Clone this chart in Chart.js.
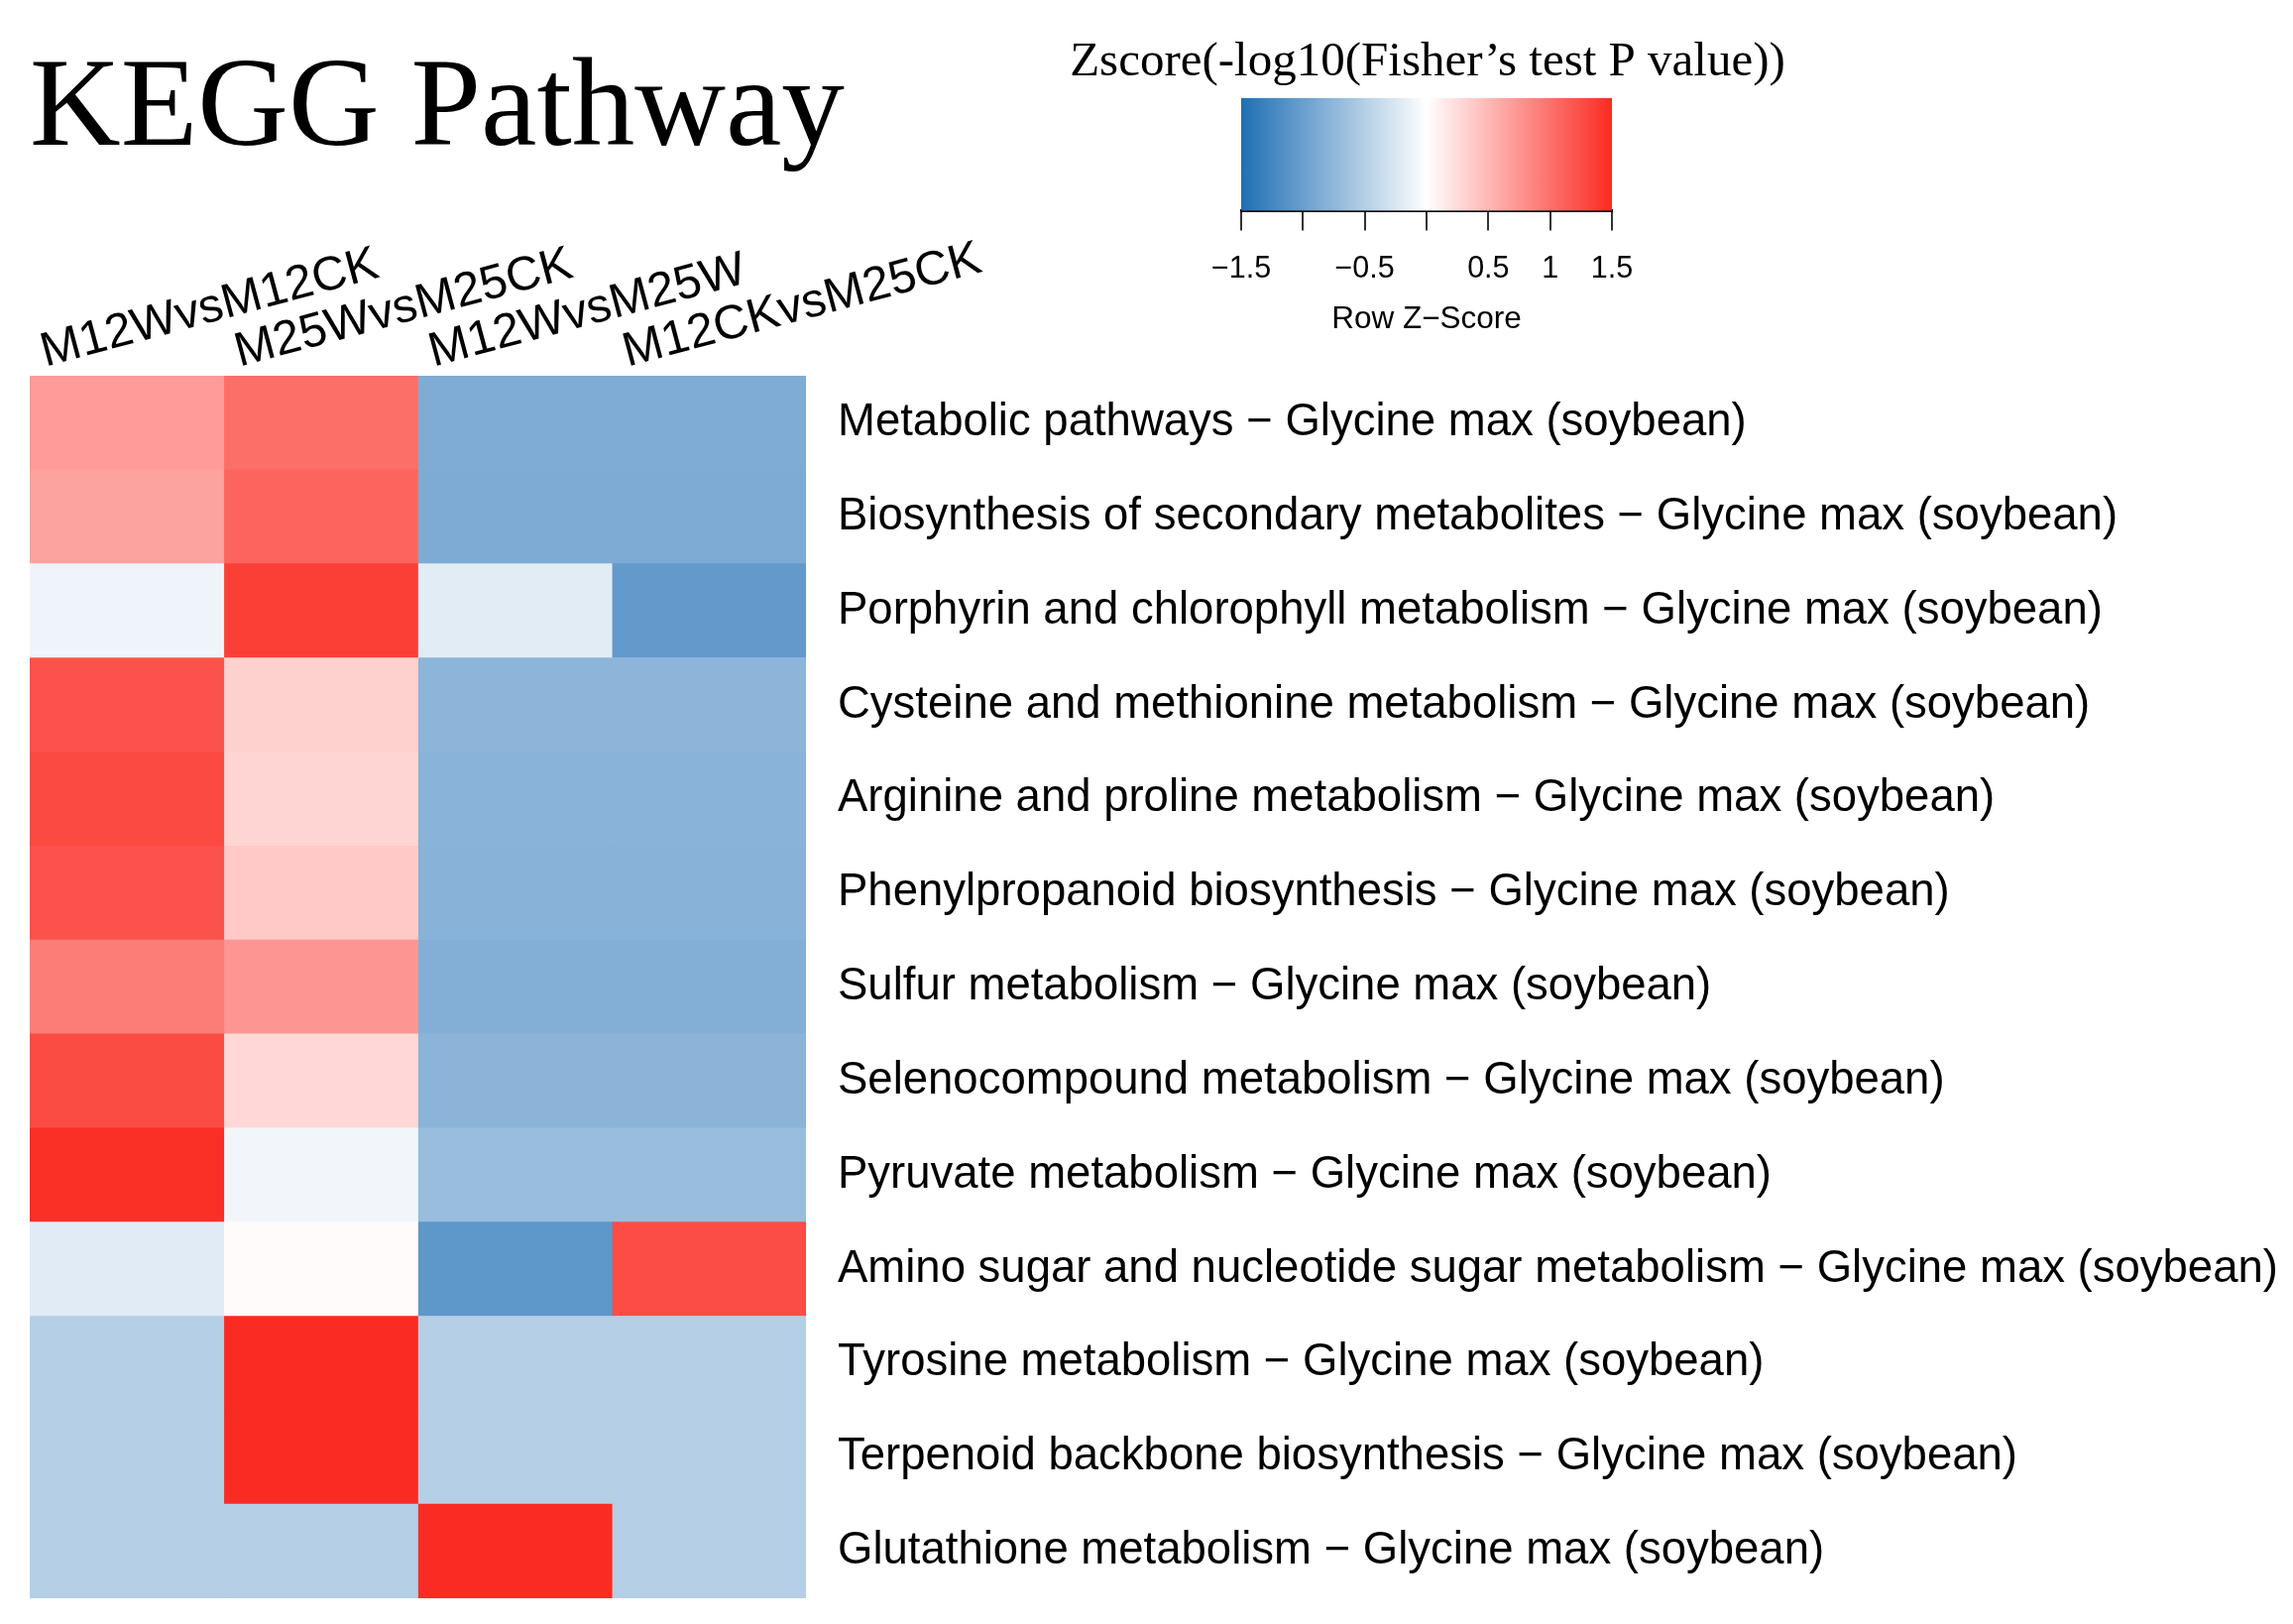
<!DOCTYPE html>
<html>
<head>
<meta charset="utf-8">
<title>KEGG Pathway heatmap</title>
<script src="https://cdn.jsdelivr.net/npm/chart.js@4.4.1/dist/chart.umd.min.js"></script>
<style>
  body { margin: 0; background: #fff; }
  #wrap { position: relative; width: 2313px; height: 1638px; }
  #heat { position: absolute; left: 0; top: 0; }
  #key { position: absolute; left: 1040px; top: 0; }
</style>
</head>
<body>
<div id="wrap">
  <canvas id="heat" width="2313" height="1638"></canvas>
  <canvas id="key" width="800" height="380"></canvas>
</div>
<script>
// rows of the heatmap (top to bottom)
const pathways = [
    'Metabolic pathways − Glycine max (soybean)',
    'Biosynthesis of secondary metabolites − Glycine max (soybean)',
    'Porphyrin and chlorophyll metabolism − Glycine max (soybean)',
    'Cysteine and methionine metabolism − Glycine max (soybean)',
    'Arginine and proline metabolism − Glycine max (soybean)',
    'Phenylpropanoid biosynthesis − Glycine max (soybean)',
    'Sulfur metabolism − Glycine max (soybean)',
    'Selenocompound metabolism − Glycine max (soybean)',
    'Pyruvate metabolism − Glycine max (soybean)',
    'Amino sugar and nucleotide sugar metabolism − Glycine max (soybean)',
    'Tyrosine metabolism − Glycine max (soybean)',
    'Terpenoid backbone biosynthesis − Glycine max (soybean)',
    'Glutathione metabolism − Glycine max (soybean)'
];

// columns
const comparisons = ['M12WvsM12CK', 'M25WvsM25CK', 'M12WvsM25W', 'M12CKvsM25CK'];

// row z-scores, one array per column
const zM12WvsM12CK  = [0.70, 0.65, -0.11, 1.22, 1.28, 1.22, 0.92, 1.27, 1.47, -0.21, -0.50, -0.50, -0.50];
const zM25WvsM25CK  = [1.02, 1.09, 1.36, 0.33, 0.30, 0.38, 0.74, 0.28, -0.09, 0.03, 1.50, 1.50, -0.50];
const zM12WvsM25W   = [-0.86, -0.87, -0.20, -0.77, -0.79, -0.80, -0.83, -0.78, -0.69, -1.08, -0.50, -0.50, 1.50];
const zM12CKvsM25CK = [-0.86, -0.87, -1.05, -0.77, -0.79, -0.80, -0.83, -0.78, -0.69, 1.26, -0.50, -0.50, -0.50];

// colour key ticks
const keyTicks  = [-1.5, -1, -0.5, 0, 0.5, 1, 1.5];
const keyLabels = ['−1.5', '', '−0.5', '', '0.5', '1', '1.5'];

const BLUE = [31, 111, 180];
const RED = [250, 43, 34];
const SANS = '"Liberation Sans", Arial, sans-serif';
const SERIF = '"Liberation Serif", "Times New Roman", serif';

// blue - white - red ramp between -1.5 and 1.5
function zColor(z) {
    let t = Math.max(-1, Math.min(1, z / 1.5));
    const end = t < 0 ? BLUE : RED;
    t = Math.abs(t);
    const c = end.map(v => Math.round(255 + (v - 255) * t));
    return `rgb(${c[0]}, ${c[1]}, ${c[2]})`;
}

const columns = [zM12WvsM12CK, zM25WvsM25CK, zM12WvsM25W, zM12CKvsM25CK];

const ctxHeat = document.getElementById('heat').getContext('2d');
const heatChart = new Chart(ctxHeat, {
    type: 'bar',
    data: {
        labels: pathways,
        datasets: columns.map((vals, i) => ({
            label: comparisons[i],
            data: vals.map(() => 1),   // each cell is one column wide
            backgroundColor: vals.map(zColor),
            borderWidth: 0,
            barPercentage: 1,
            categoryPercentage: 1
        }))
    },
    options: {
        indexAxis: 'y',
        responsive: false,
        animation: false,
        layout: { padding: { left: 30, right: 0, top: 0, bottom: 26 } },
        plugins: {
            legend: { display: false },
            tooltip: { enabled: false },
            title: {
                display: true,
                text: 'KEGG Pathway',
                align: 'start',
                color: '#000',
                font: { family: SERIF, size: 127, weight: 'normal' },
                padding: { top: 36, bottom: 0 }
            }
        },
        scales: {
            x: {
                type: 'linear',
                position: 'top',
                stacked: true,
                min: 0,
                max: 4,
                grid: { display: false, drawTicks: false },
                border: { display: false },
                afterBuildTicks: (s) => { s.ticks = comparisons.map((c, i) => ({ value: i + 0.14 })); },
                afterFit: (s) => { s.height = 190.6; },
                ticks: {
                    autoSkip: false,
                    minRotation: 15,
                    maxRotation: 15,
                    padding: -6,
                    color: '#000',
                    font: { family: SANS, size: 48.5 },
                    callback: (v, i) => comparisons[i]
                }
            },
            y: {
                type: 'category',
                position: 'right',
                stacked: true,
                grid: { display: false, drawTicks: false },
                border: { display: false },
                afterFit: (s) => { s.width = 1500; s.paddingTop = 0; s.paddingBottom = 0; },
                ticks: {
                    padding: 32,
                    color: '#000',
                    font: { family: SANS, size: 45.5 }
                }
            }
        }
    }
});

// colour key
function keyGradient(c) {
    const ch = c.chart;
    if (!ch.chartArea) return null;
    const xs = ch.scales.x;
    const g = ch.ctx.createLinearGradient(xs.getPixelForValue(keyTicks[0]), 0,
        xs.getPixelForValue(keyTicks[keyTicks.length - 1]), 0);
    g.addColorStop(0, zColor(keyTicks[0]));
    g.addColorStop(0.5, zColor(0));
    g.addColorStop(1, zColor(keyTicks[keyTicks.length - 1]));
    return g;
}

const ctxKey = document.getElementById('key').getContext('2d');
const keyChart = new Chart(ctxKey, {
    type: 'bar',
    data: {
        labels: [''],
        datasets: [{
            data: [[keyTicks[0], keyTicks[keyTicks.length - 1]]],
            backgroundColor: keyGradient,
            borderWidth: 0,
            barPercentage: 1,
            categoryPercentage: 1
        }]
    },
    options: {
        indexAxis: 'y',
        responsive: false,
        animation: false,
        layout: { padding: 0 },
        plugins: {
            legend: { display: false },
            tooltip: { enabled: false },
            title: {
                display: true,
                text: 'Zscore(-log10(Fisher’s test P value))',
                color: '#000',
                font: { family: SERIF, size: 49, weight: 'normal' },
                padding: { top: 34.2, bottom: 5.8 }
            }
        },
        scales: {
            x: {
                type: 'linear',
                position: 'bottom',
                min: keyTicks[0],
                max: keyTicks[keyTicks.length - 1],
                afterBuildTicks: (s) => { s.ticks = keyTicks.map(v => ({ value: v })); },
                afterFit: (s) => { s.height = 380 - 212.5; },
                grid: { drawOnChartArea: false, drawTicks: true, tickLength: 20, color: '#333', lineWidth: 2 },
                border: { display: true, color: '#000', width: 3 },
                ticks: {
                    autoSkip: false,
                    maxRotation: 0,
                    padding: 21,
                    color: '#000',
                    font: { family: SANS, size: 30.5 },
                    callback: (v, i) => keyLabels[i]
                },
                title: {
                    display: true,
                    text: 'Row Z−Score',
                    color: '#000',
                    font: { family: SANS, size: 31.5 },
                    padding: { top: 0, bottom: 39 }
                }
            },
            y: {
                type: 'category',
                position: 'left',
                grid: { display: false },
                border: { display: false },
                ticks: { display: false },
                afterFit: (s) => { s.width = 212; }
            },
            yr: {
                type: 'linear',
                position: 'right',
                grid: { display: false },
                border: { display: false },
                ticks: { display: false },
                afterFit: (s) => { s.width = 214; }
            }
        }
    }
});
</script>
</body>
</html>
